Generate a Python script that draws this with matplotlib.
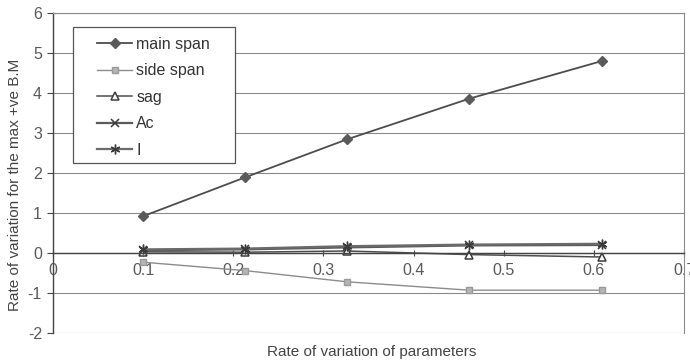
import matplotlib.pyplot as plt
from matplotlib.patches import Rectangle
from matplotlib.ticker import MultipleLocator

plt.rcParams['font.family'] = ['Liberation Sans', 'DejaVu Sans']
plt.rcParams['axes.unicode_minus'] = False

# rate of variation of each parameter
rate = [0.1, 0.213, 0.326, 0.462, 0.609]

main_span = [0.92, 1.89, 2.84, 3.86, 4.8]
side_span = [-0.23, -0.44, -0.72, -0.93, -0.93]
sag = [0.03, 0.02, 0.05, -0.04, -0.1]
ac = [0.07, 0.09, 0.14, 0.19, 0.2]
inertia = [0.09, 0.11, 0.17, 0.21, 0.23]

LABELS = ["main span", "side span", "sag", "Ac", "I"]
XTICKS = [0, 0.1, 0.2, 0.3, 0.4, 0.5, 0.6, 0.7]
XTICK_LABELS = ["0", "0.1", "0.2", "0.3", "0.4", "0.5", "0.6", "0.7"]

fig = plt.figure(figsize=(6.9, 3.63), dpi=100)
ax = fig.add_axes([53 / 690, 1 - 333 / 363, 631 / 690, 320 / 363])

dark = "#4d4d4d"
light = "#8c8c8c"

ax.plot(rate, main_span, color=dark, lw=1.3, marker="D", ms=5,
        mfc="#5a5a5a", mec="#5a5a5a", label=LABELS[0])
ax.plot(rate, side_span, color=light, lw=1.0, marker="s", ms=5,
        mfc="#b5b5b5", mec="#9a9a9a", label=LABELS[1])
ax.plot(rate, sag, color=dark, lw=1.1, marker="^", ms=6,
        mfc="white", mec="#3a3a3a", mew=1.1, label=LABELS[2])
ax.plot(rate, ac, color="#5a5a5a", lw=1.6, marker="x", ms=6,
        mec="#3a3a3a", mew=1.1, label=LABELS[3])
ax.plot(rate, inertia, color="#6a6a6a", lw=1.6, marker=(6, 2, 0), ms=7,
        mec="#3a3a3a", mew=1.0, label=LABELS[4])

ax.set_xlim(0, 0.7)
ax.set_ylim(-2, 6)
ax.set_xticks(XTICKS)
ax.set_xticklabels(XTICK_LABELS)
ax.yaxis.set_major_locator(MultipleLocator(1))

ax.grid(axis="y", color="#8a8a8a", lw=0.8)
ax.set_axisbelow(True)

ax.spines["bottom"].set_position(("data", 0))
for side in ["left", "bottom"]:
    ax.spines[side].set_color("#444444")
    ax.spines[side].set_linewidth(1.0)
for side in ["top", "right"]:
    ax.spines[side].set_color("#8a8a8a")
    ax.spines[side].set_linewidth(0.8)

ax.tick_params(axis="y", direction="out", length=4, color="#444444",
               labelsize=11.5, labelcolor="#5a5a5a", pad=4)
ax.tick_params(axis="x", direction="inout", length=4, color="#444444",
               labelsize=11.5, labelcolor="#5a5a5a", pad=5)

ax.set_ylabel("Rate of variation for the max +ve B.M", fontsize=11,
              color="#444444")
ax.yaxis.set_label_coords(-0.049, 0.4625)
ax.set_xlabel("Rate of variation of parameters", fontsize=11,
              color="#444444")
ax.xaxis.set_label_coords(0.505, -0.036)

# legend entries without their own frame, boxed separately
leg = ax.legend(loc="upper left", bbox_to_anchor=(0.0697, 0.925),
                borderaxespad=0, borderpad=0, fontsize=11.5,
                handlelength=2.2, handletextpad=0.25, labelspacing=0.72,
                frameon=False)
for t in leg.get_texts():
    t.set_color("#333333")

box = Rectangle((73 / 690, 1 - 163 / 363), 162 / 690, 136 / 363,
                transform=fig.transFigure, facecolor="white",
                edgecolor="#555555", lw=0.9, zorder=4)
ax.add_patch(box)
leg.set_zorder(5)

fig.savefig("out.png", dpi=100)
